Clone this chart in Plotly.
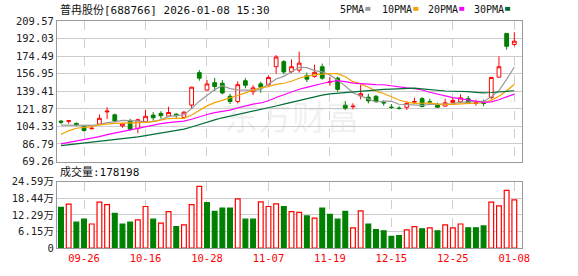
import plotly.graph_objects as go

# ---------------- data ----------------
dates = ["2025-09-23","2025-09-24","2025-09-25","2025-09-26","2025-09-29","2025-09-30",
         "2025-10-09","2025-10-10","2025-10-13","2025-10-14","2025-10-15","2025-10-16",
         "2025-10-17","2025-10-20","2025-10-21","2025-10-22","2025-10-23","2025-10-24",
         "2025-10-27","2025-10-28","2025-10-29","2025-10-30","2025-10-31","2025-11-03",
         "2025-11-04","2025-11-05","2025-11-06","2025-11-07","2025-11-10","2025-11-11",
         "2025-11-12","2025-11-13","2025-11-14","2025-11-17","2025-11-18","2025-11-19",
         "2025-11-20","2025-12-05","2025-12-08","2025-12-09","2025-12-10","2025-12-11",
         "2025-12-12","2025-12-15","2025-12-16","2025-12-17","2025-12-18","2025-12-19",
         "2025-12-22","2025-12-23","2025-12-24","2025-12-25","2025-12-26","2025-12-29",
         "2025-12-30","2025-12-31","2026-01-05","2026-01-06","2026-01-07","2026-01-08"]

opens = [109.6,109.3,107.3,104.0,102.0,106.6,118.8,115.9,104.8,110.0,
         102.3,108.8,115.6,117.3,114.6,116.5,113.3,125.6,158.0,140.6,
         148.0,147.4,134.4,129.2,149.9,138.9,146.8,146.0,163.9,169.0,
         159.0,160.5,155.0,154.2,163.9,148.5,152.5,125.5,124.0,134.8,
         133.5,134.4,128.3,123.6,122.6,123.4,128.6,132.0,129.0,125.5,
         124.6,128.0,128.9,132.0,127.2,128.5,133.1,153.5,197.2,186.2]
highs = [110.8,110.8,108.3,104.6,103.5,116.3,123.4,117.0,107.5,112.0,
         112.0,120.8,118.5,119.5,124.0,117.5,119.5,144.0,160.5,150.6,
         152.6,150.5,137.0,149.3,152.5,145.4,149.0,155.2,175.5,170.5,
         171.2,179.0,158.0,166.0,167.0,153.5,154.0,129.6,127.3,146.0,
         137.0,135.6,130.5,126.6,124.5,129.3,133.0,133.6,132.0,128.0,
         132.0,133.0,136.4,134.7,131.0,131.0,153.5,174.2,197.5,198.4]
lows = [106.6,107.0,104.5,99.3,101.3,106.0,111.8,108.8,103.0,100.0,
        97.5,108.0,110.0,112.0,114.0,113.0,112.0,121.7,150.0,140.0,
        139.6,136.3,126.6,127.3,142.4,135.6,138.0,145.0,157.0,156.3,
        157.4,158.0,148.5,153.0,151.0,145.0,139.0,120.5,121.4,131.4,
        127.3,128.2,125.0,121.7,121.2,120.8,127.0,123.3,126.0,122.7,
        124.0,127.5,128.0,127.3,125.0,124.5,131.5,153.0,181.0,184.3]
closes = [108.5,110.0,105.8,100.2,102.5,112.4,119.6,109.8,106.9,101.5,
          111.0,114.4,113.0,115.0,118.2,115.0,118.5,143.5,152.5,146.7,
          144.1,137.7,129.2,146.0,145.4,142.8,143.3,153.2,173.6,158.7,
          163.9,167.5,151.5,158.3,152.5,149.0,141.3,122.5,124.5,137.0,
          129.8,129.2,127.8,123.2,122.2,127.3,129.2,124.2,128.6,123.5,
          127.9,130.2,132.8,128.0,127.8,127.3,153.2,163.9,184.3,189.4]
# closes before the visible window (needed for the moving averages)
pre_closes = [84,82,80,79,81,83,82,80,81,83,
              80,78,76,75,77,79,78,76,77,79,
              74,80,90.2,97.5,93.5,110,105.8,103.2,100.5]
# volume in 万
volumes = [15.1,16.3,9.6,10.7,8.9,17.0,16.1,12.9,8.9,9.6,
           10.4,15.4,10.7,9.2,13.5,7.9,8.6,16.1,22.9,16.8,
           13.6,14.8,14.8,18.2,10.7,10.7,17.1,15.4,16.4,15.4,
           13.5,13.2,11.9,11.1,14.8,12.5,10.7,13.6,7.5,13.8,
           8.9,6.8,6.4,4.3,4.6,6.7,7.9,7.1,7.5,6.4,
           8.6,7.5,8.9,7.5,7.5,8.2,17.0,15.6,21.4,17.8198]

price_ticks = ["69.26","86.79","104.33","121.87","139.41","156.95","174.49","192.03","209.57"]
vol_ticks = ["0","6.15万","12.29万","18.44万","24.59万"]
ma_periods = [5, 10, 20, 30]
ma_names = ["5PMA", "10PMA", "20PMA", "30PMA"]
ma_colors = ["#999999", "#f5a200", "#ff00ff", "#006f36"]
title_text = "普冉股份[688766] 2026-01-08 15:30"

RED = "#ff0000"
GREEN = "#008000"

# ---------------- derived ----------------
allc = pre_closes + closes
npre = len(pre_closes)
mas = []
for p in ma_periods:
    vals = []
    for i in range(len(closes)):
        j = npre + i
        window = allc[j - p + 1:j + 1]
        vals.append(sum(window) / p)
    mas.append(vals)

vol_up = []
for i, c in enumerate(closes):
    ref = closes[i - 1] if i > 0 else opens[0]
    vol_up.append(c > ref)

fig = go.Figure()

fig.add_trace(go.Candlestick(
    x=dates, open=opens, high=highs, low=lows, close=closes,
    increasing=dict(line=dict(color=RED, width=1), fillcolor="white"),
    decreasing=dict(line=dict(color=GREEN, width=1), fillcolor=GREEN),
    whiskerwidth=0, xaxis="x", yaxis="y", hoverinfo="skip", showlegend=False))

for vals, col in zip(mas, ma_colors):
    fig.add_trace(go.Scatter(x=dates, y=vals, mode="lines",
                             line=dict(color=col, width=1.2),
                             xaxis="x", yaxis="y", hoverinfo="skip", showlegend=False))

fig.add_trace(go.Bar(
    x=dates, y=volumes, width=0.62,
    marker=dict(color=["white" if u else GREEN for u in vol_up],
                line=dict(color=[RED if u else GREEN for u in vol_up], width=1.2)),
    xaxis="x2", yaxis="y2", hoverinfo="skip", showlegend=False))

tick_dates = dates[3::8]
tick_text = [d[5:] for d in tick_dates]

MONO = "DejaVu Sans Mono, Noto Sans CJK SC, monospace"
PX_L, PX_W, PX_B, PX_H = 56, 466, 255, 234


def px(xp):
    return (xp - PX_L) / PX_W


def py(yp):
    return (PX_B - yp) / PX_H


axis_common = dict(showline=True, mirror=True, linecolor="#9a9a9a", linewidth=1,
                   ticks="", zeroline=False)

fig.update_layout(
    width=578, height=276,
    margin=dict(l=PX_L, r=578 - PX_L - PX_W, t=21, b=21),
    paper_bgcolor="white", plot_bgcolor="white",
    bargap=0.3,
    xaxis=dict(type="category", range=[-0.52, 60.0], anchor="y",
               tickvals=tick_dates, showticklabels=False,
               showgrid=True, gridcolor="#cfcfcf", griddash="dash", gridwidth=1,
               rangeslider=dict(visible=False), **axis_common),
    xaxis2=dict(type="category", range=[-0.52, 60.0], anchor="y2", matches="x",
                tickvals=tick_dates, ticktext=tick_text,
                tickfont=dict(family=MONO, size=10.5, color=RED),
                showgrid=True, gridcolor="#cfcfcf", griddash="dash", gridwidth=1,
                **axis_common),
    yaxis=dict(domain=[0.381, 1.0], range=[float(price_ticks[0]), float(price_ticks[-1])],
               tickvals=[float(t) for t in price_ticks], ticktext=price_ticks,
               tickfont=dict(family=MONO, size=10.5, color="#222"),
               showgrid=True, gridcolor="#cccccc", gridwidth=1, anchor="x",
               **axis_common),
    yaxis2=dict(domain=[0.0, 0.292], range=[0, float(vol_ticks[-1].replace("万", ""))],
                tickvals=[float(t.replace("万", "")) for t in vol_ticks], ticktext=vol_ticks,
                tickfont=dict(family=MONO, size=10.5, color="#222"),
                showgrid=True, gridcolor="#cccccc", gridwidth=1, anchor="x2",
                **axis_common),
    font=dict(family=MONO, color="#222"),
)

ann = []
# watermark
ann.append(dict(text="东方财富", x=px(292), y=py(91), xref="paper", yref="paper",
                showarrow=False, font=dict(family="Noto Sans CJK SC", size=34,
                                           color="rgba(160,160,160,0.16)")))
# title
ann.append(dict(text=title_text, x=px(57), y=py(9.5), xref="paper", yref="paper",
                xanchor="left", yanchor="middle", showarrow=False,
                font=dict(family=MONO, size=11, color="#111")))
# volume label
ann.append(dict(text="成交量:" + str(int(round(volumes[-1] * 10000))),
                x=px(57), y=py(177), xref="paper", yref="paper",
                xanchor="left", yanchor="middle", showarrow=False,
                font=dict(family=MONO, size=11, color="#111")))
# legend
leg_x = [338, 380, 426, 472]
shapes = []
for name, col, lx in zip(ma_names, ma_colors, leg_x):
    ann.append(dict(text=name, x=px(lx), y=py(9.5), xref="paper", yref="paper",
                    xanchor="left", yanchor="middle", showarrow=False,
                    font=dict(family=MONO, size=10, color="#111")))
    tw = 6.02 * len(name)
    shapes.append(dict(type="rect", xref="paper", yref="paper",
                       x0=px(lx + tw + 3), x1=px(lx + tw + 8),
                       y0=py(10.5), y1=py(6.5), line=dict(width=0), fillcolor=col))

fig.update_layout(annotations=ann, shapes=shapes)

fig.write_html("out.html")
